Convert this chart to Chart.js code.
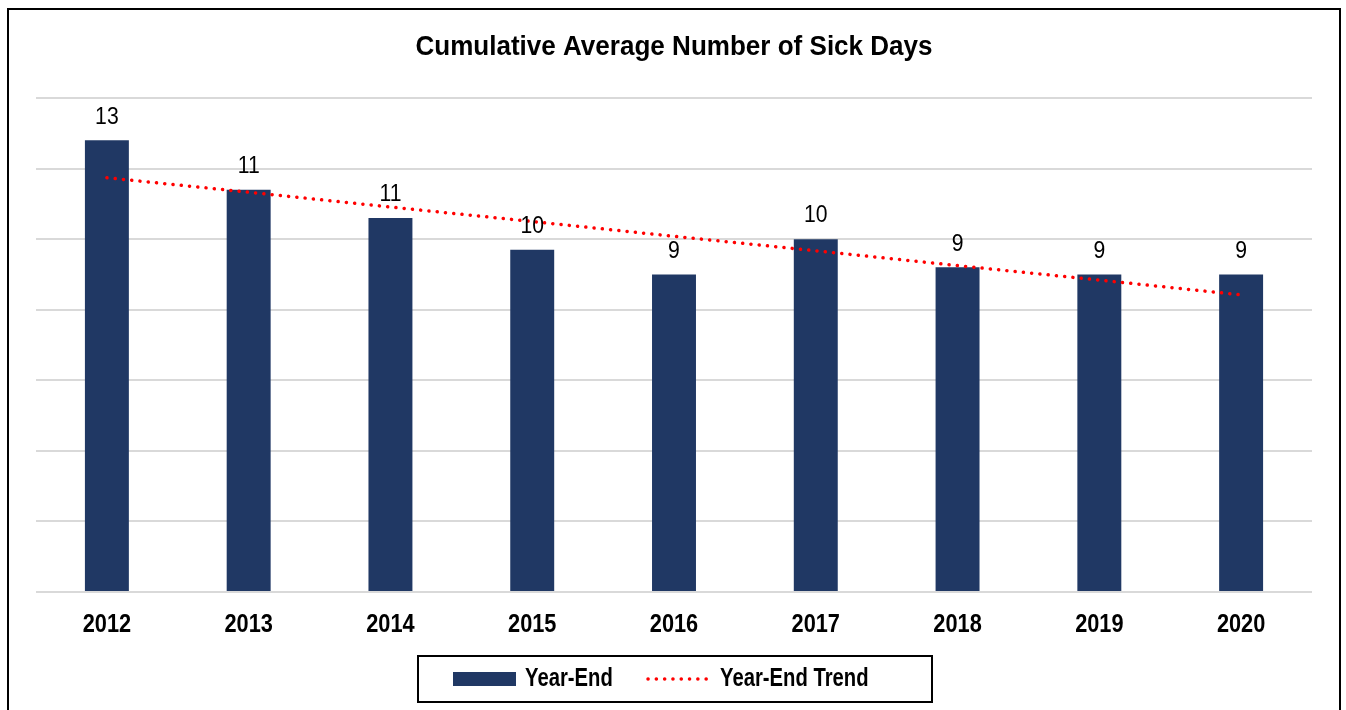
<!DOCTYPE html>
<html>
<head>
<meta charset="utf-8">
<script src="https://cdn.jsdelivr.net/npm/chart.js@4.4.0/dist/chart.umd.min.js"></script>
<style>
html,body{margin:0;padding:0;background:#fff;}
#wrap{position:relative;width:1346px;height:710px;}
</style>
</head>
<body>
<div id="wrap"><canvas id="c" width="1346" height="710"></canvas></div>
<script>
const years = ['2012','2013','2014','2015','2016','2017','2018','2019','2020'];
const yearEnd = [12.8, 11.4, 10.6, 9.7, 9.0, 10.0, 9.2, 9.0, 9.0];
const yearEndTrend = [11.74, 11.33, 10.91, 10.50, 10.08, 9.67, 9.25, 8.84, 8.42];
const titleText = 'Cumulative Average Number of Sick Days';
const seriesNames = ['Year-End', 'Year-End Trend'];

const FONT = '"Liberation Sans", Arial, sans-serif';
const BAR = '#203864';

function drawText(ctx, text, x, y, font, sx, align) {
  ctx.save();
  ctx.font = font;
  ctx.textBaseline = 'middle';
  ctx.textAlign = align || 'center';
  ctx.translate(x, y);
  ctx.scale(sx, 1);
  ctx.fillText(text, 0, 0);
  ctx.restore();
}

const decor = {
  id: 'decor',
  afterDraw(chart) {
    const ctx = chart.ctx;
    ctx.save();
    // outer border
    ctx.strokeStyle = '#000';
    ctx.lineWidth = 2;
    ctx.strokeRect(8, 9, 1332, 710);
    ctx.fillStyle = '#000';
    // title
    drawText(ctx, titleText, 674, 47, 'bold 28px ' + FONT, 0.93);
    // x tick labels
    const xs = chart.scales.x;
    years.forEach((y, i) => {
      drawText(ctx, y, xs.getPixelForValue(i), 625, 'bold 25px ' + FONT, 0.87);
    });
    // data labels
    const meta = chart.getDatasetMeta(1);
    meta.data.forEach((el, i) => {
      drawText(ctx, String(Math.round(yearEnd[i])), el.x, el.y - 23, '23px ' + FONT, 0.92);
    });
    // legend
    ctx.lineWidth = 2;
    ctx.strokeStyle = '#000';
    ctx.strokeRect(418, 656, 514, 46);
    ctx.fillStyle = BAR;
    ctx.fillRect(453, 672, 63, 14);
    ctx.fillStyle = '#000';
    drawText(ctx, seriesNames[0], 525, 679, 'bold 25px ' + FONT, 0.81, 'left');
    ctx.beginPath();
    ctx.setLineDash([0.1, 8.2]);
    ctx.lineCap = 'round';
    ctx.lineWidth = 3.5;
    ctx.strokeStyle = '#ff0000';
    ctx.moveTo(648, 679);
    ctx.lineTo(712, 679);
    ctx.stroke();
    ctx.setLineDash([]);
    ctx.fillStyle = '#000';
    drawText(ctx, seriesNames[1], 720, 679, 'bold 25px ' + FONT, 0.81, 'left');
    ctx.restore();
  }
};

new Chart(document.getElementById('c'), {
  data: {
    labels: years,
    datasets: [
      {
        type: 'line',
        label: seriesNames[1],
        data: yearEndTrend,
        borderColor: '#ff0000',
        borderWidth: 3.5,
        borderDash: [0.1, 8.2],
        borderCapStyle: 'round',
        pointRadius: 0,
        fill: false,
        tension: 0,
        order: 0
      },
      {
        type: 'bar',
        label: seriesNames[0],
        data: yearEnd,
        backgroundColor: BAR,
        barPercentage: 0.62,
        categoryPercentage: 0.5,
        order: 1
      }
    ]
  },
  plugins: [decor],
  options: {
    responsive: false,
    animation: false,
    layout: { padding: { left: 36, right: 34, top: 98, bottom: 110 } },
    plugins: {
      legend: { display: false },
      title: { display: false },
      tooltip: { enabled: false }
    },
    scales: {
      x: {
        grid: { display: false },
        border: { display: false },
        ticks: { display: false }
      },
      y: {
        min: 0, max: 14,
        ticks: { display: false, stepSize: 2 },
        border: { display: false },
        grid: { color: '#d9d9d9', lineWidth: 2, drawTicks: false }
      }
    }
  }
});
</script>
</body>
</html>
